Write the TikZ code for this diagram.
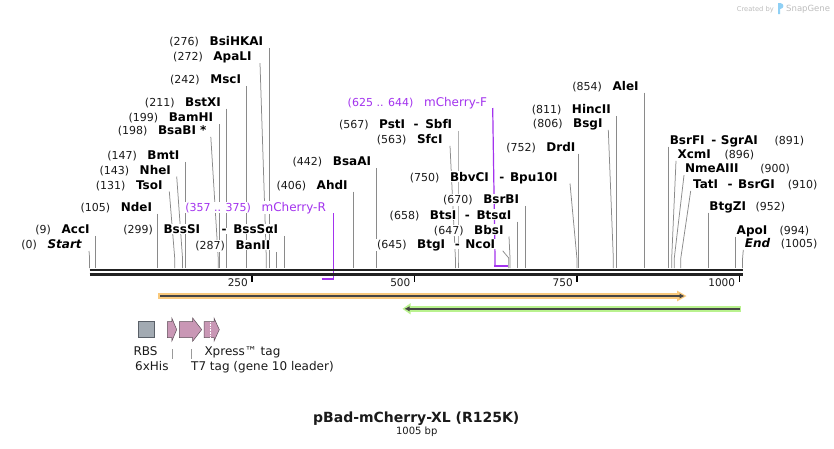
\documentclass[tikz,border=0pt]{standalone}
\usepackage{fontspec}
\setmainfont{DejaVu Sans}
\usetikzlibrary{arrows.meta}
\definecolor{sitegray}{HTML}{8A8A8A}
\definecolor{primer}{HTML}{A333EE}
\definecolor{orangeband}{HTML}{F9C97C}
\definecolor{greenband}{HTML}{B9F28E}
\definecolor{darkline}{HTML}{454545}
\definecolor{featpink}{HTML}{C997B5}
\definecolor{featedge}{HTML}{5E4E58}
\definecolor{rbsgray}{HTML}{A2AAB2}
\definecolor{rbsedge}{HTML}{5A6068}
\definecolor{sgray}{HTML}{BDBDBD}
\definecolor{sgblue}{HTML}{8FD0F5}
\definecolor{seqcol}{HTML}{222222}
\definecolor{textcol}{HTML}{1A1A1A}
\definecolor{leadgray}{HTML}{9A9A9A}
\pgfdeclarelayer{bg}
\pgfsetlayers{bg,main}
\newcommand{\wb}[1]{{\setlength{\fboxsep}{0.8pt}\colorbox{white}{#1}}}
\newcommand{\sname}[1]{\wb{\fontsize{12}{14}\selectfont\bfseries\color{black}#1}}
\newcommand{\snum}[1]{\wb{\fontsize{11}{13}\selectfont\color{textcol}(#1)}}
\tikzset{
  lbl/.style={inner sep=0pt, outer sep=0pt},
  siteline/.style={draw=sitegray, line width=0.75pt},
  primerline/.style={draw=primer, line width=1.2pt},
  primerbar/.style={draw=primer, line width=2pt},
  seqline/.style={draw=seqcol, line width=2.2pt},
  tickmark/.style={draw=black, line width=1.4pt},
  ticklbl/.style={inner sep=0pt, font=\fontsize{10.5}{12}\selectfont, anchor=base east, text=textcol},
  flbl/.style={inner sep=0pt, font=\fontsize{12}{14}\selectfont, text=textcol},
  leader/.style={draw=leadgray, line width=0.6pt},
  featbox/.style={fill=featpink, draw=featedge, line width=0.5pt},
}
% left-side site: id, text end x, baseline y, dx of line top, site x, number, name
\newcommand{\LS}[7]{%
  \node[lbl,anchor=base east] (L#1) at (#2,#3) {\snum{#6}\hspace{9pt}#7};
  \coordinate (S#1) at (#5,268);
  \begin{pgfonlayer}{bg}
    \draw[siteline] ([shift={(#4,2.5)}]L#1.base east) -- (#5,258) -- (S#1);
  \end{pgfonlayer}
}
% right-side site: id, text start x, baseline y, dx, site x, number, number end x, name
\newcommand{\RS}[8]{%
  \node[lbl,anchor=base west] (L#1) at (#2,#3) {#8};
  \node[lbl,anchor=base east] (N#1) at (#7,#3) {\snum{#6}};
  \coordinate (S#1) at (#5,268);
  \begin{pgfonlayer}{bg}
    \draw[siteline] ([shift={(#4,2.5)}]L#1.base west) -- (#5,258) -- (S#1);
  \end{pgfonlayer}
}
\begin{document}
\begin{tikzpicture}[x=1pt,y=-1pt]
\useasboundingbox (0,0) rectangle (834,448);
\begin{pgfonlayer}{bg}
\fill[white] (0,0) rectangle (834,448);
\end{pgfonlayer}

% ---- sequence backbone ----
\coordinate (seqA) at (89.6,270);
\coordinate (seqB) at (743.2,270);
\coordinate (seqC) at (89.6,274.4);
\coordinate (seqD) at (743.2,274.4);
\draw[seqline] (seqA) -- (seqB);
\draw[seqline] (seqC) -- (seqD);

% ---- ticks ----
\foreach \tx/\tl in {252.0/250, 414.5/500, 576.9/750, 739.3/1000}{
  \coordinate (T\tl a) at (\tx,275.6);
  \coordinate (T\tl b) at (\tx,282.3);
  \draw[tickmark] (T\tl a) -- (T\tl b);
  \node[ticklbl] (TL\tl) at (\tx-4,286) {\tl};
}

% ---- left-side sites ----
\LS{a}{82.5}{248.5}{6.5}{89.6}{0}{\sname{\itshape Start}}
\LS{b}{90.4}{233.3}{5}{95.4}{9}{\sname{AccI}}
\LS{c}{152.8}{211}{5}{157.8}{105}{\sname{NdeI}}
\LS{d}{163.3}{189}{6}{174.7}{131}{\sname{TsoI}}
\LS{e}{171.7}{174}{5}{182.5}{143}{\sname{NheI}}
\LS{f}{180.1}{159.3}{5}{185.1}{147}{\sname{BmtI}}
\LS{g}{207.3}{134.3}{3.5}{218.2}{198}{\sname{BsaBI *}}
\LS{h}{213.9}{121.7}{5}{218.9}{199}{\sname{BamHI}}
\LS{i}{221.7}{106}{5}{226.7}{211}{\sname{BstXI}}
\LS{j}{241.8}{83.3}{5}{246.8}{242}{\sname{MscI}}
\LS{k}{252.3}{60.7}{7.7}{266.3}{272}{\sname{ApaLI}}
\LS{l}{263.9}{45.7}{5}{268.9}{276}{\sname{BsiHKAI}}
\LS{m}{271.1}{249.3}{5}{276.1}{287}{\sname{BanII}}
\LS{n}{278.9}{233.3}{5}{283.9}{299}{\sname{BssSI}\hspace{20pt}\sname{-}\hspace{5pt}\sname{BssSαI}}
\LS{o}{348.4}{189}{5}{353.4}{406}{\sname{AhdI}}
\LS{p}{371.8}{165.7}{5}{376.8}{442}{\sname{BsaAI}}
\LS{q}{443.3}{143.3}{6.7}{455.4}{563}{\sname{SfcI}}
\LS{r}{453}{128.3}{5}{458}{567}{\sname{PstI}\hspace{7pt}\sname{-}\hspace{5pt}\sname{SbfI}}
\LS{s}{496}{248.3}{6.7}{508.7}{645}{\sname{BtgI}\hspace{8pt}\sname{-}\hspace{4pt}\sname{NcoI}}
\LS{t}{504.3}{234}{4.7}{510}{647}{\sname{BbsI}}
\LS{u}{512.1}{219}{5}{517.1}{658}{\sname{BtsI}\hspace{7pt}\sname{-}\hspace{5pt}\sname{BtsαI}}
\LS{v}{519.9}{203.3}{5}{524.9}{670}{\sname{BsrBI}}
\LS{w}{558.3}{181}{11.7}{576.9}{750}{\sname{BbvCI}\hspace{9pt}\sname{-}\hspace{4pt}\sname{Bpu10I}}
\LS{x}{576.2}{151}{2}{578.2}{752}{\sname{DrdI}}
\LS{y}{603.3}{127.3}{5}{613.3}{806}{\sname{BsgI}}
\LS{z}{611.5}{113.3}{5}{616.5}{811}{\sname{HincII}}
\LS{aa}{639.4}{90}{5}{644.4}{854}{\sname{AleI}}

% ---- right-side sites ----
\RS{ab}{669}{144}{-0.5}{668.5}{891}{805}{\sname{BsrFI}\hspace{5pt}\sname{-}\hspace{3pt}\sname{SgrAI}}
\RS{ac}{676.7}{158.3}{-0.7}{671.7}{896}{755}{\sname{XcmI}}
\RS{ad}{684.3}{172.7}{-0.3}{674.3}{900}{790.7}{\sname{NmeAIII}}
\RS{ae}{692.3}{188.3}{-1.6}{680.8}{910}{818.3}{\sname{TatI}\hspace{8pt}\sname{-}\hspace{4pt}\sname{BsrGI}}
\RS{af}{708.6}{210}{-0.5}{708.1}{952}{786}{\sname{BtgZI}}
\RS{ag}{735.9}{234}{-0.5}{735.4}{994}{810}{\sname{ApoI}}
\RS{ah}{744}{247.3}{-0.7}{742.6}{1005}{818.3}{\sname{\itshape End}}

% ---- primers ----
\node[lbl,anchor=base east] (PR) at (326.7,211)
  {\color{primer}\wb{\fontsize{11}{13}\selectfont(357 .. 375)}\hspace{9pt}\wb{\fontsize{12}{14}\selectfont mCherry-R}};
\coordinate (PRa) at (333.2,278.6);
\coordinate (PRb) at (321.5,278.6);
\begin{pgfonlayer}{bg}
\draw[primerline] ([shift={(6.5,2)}]PR.base east) -- (PRa);
\end{pgfonlayer}
\draw[primerbar] (PRb) -- ([shift={(0.6,0)}]PRa);

\node[lbl,anchor=base east] (PF) at (487.7,106)
  {\color{primer}\wb{\fontsize{11}{13}\selectfont(625 .. 644)}\hspace{9pt}\wb{\fontsize{12}{14}\selectfont mCherry-F}};
\coordinate (PFa) at (495,265.6);
\coordinate (PFb) at (507.5,265.6);
\begin{pgfonlayer}{bg}
\draw[primerline] ([shift={(5,2)}]PF.base east) -- (495,258) -- (PFa);
\end{pgfonlayer}
\draw[primerbar] ([shift={(-0.6,0)}]PFa) -- (PFb);

% ---- feature arrows (orange, green) ----
\coordinate (orS) at (158,296);
\coordinate (orE) at (684.5,296);
\fill[orangeband] (158,293.4) rectangle (678,298.6);
\fill[orangeband] (677,290.6) -- (686.5,296) -- (677,301.4) -- cycle;
\draw[darkline, line width=1.4pt, -{Latex[length=5pt,width=5.5pt]}] ([shift={(2,0)}]orS) -- (orE);

\coordinate (grS) at (739.5,308.8);
\coordinate (grE) at (404.5,308.8);
\fill[greenband] (410,306.1) rectangle (740.5,311.5);
\fill[greenband] (410.5,303.2) -- (402.5,308.8) -- (410.5,314.4) -- cycle;
\draw[darkline, line width=1.4pt, -{Latex[length=5pt,width=5.5pt]}] (grS) -- (grE);

% ---- small features ----
\filldraw[fill=rbsgray, draw=rbsedge, line width=0.6pt] (138.3,321.3) rectangle (154,337);
\filldraw[featbox] (167.3,321.6) -- (171.8,321.6) -- (171.8,318) -- (176.7,329.6) -- (171.8,341.2) -- (171.8,337.6) -- (167.3,337.6) -- cycle;
\filldraw[featbox] (179.3,321.6) -- (192.7,321.6) -- (192.7,318) -- (201.7,329.6) -- (192.7,341.2) -- (192.7,337.6) -- (179.3,337.6) -- cycle;
\filldraw[featbox] (204,321.6) -- (214,321.6) -- (214,318) -- (219.3,329.6) -- (214,341.2) -- (214,337.6) -- (204,337.6) -- cycle;
\draw[white, line width=0.6pt, dash pattern=on 0.8pt off 0.8pt] (210.3,322.2) -- (210.3,337);

\node[flbl, anchor=base west] (tRBS) at (133.3,355) {RBS};
\node[flbl, anchor=base west] (tHis) at (135,370) {6xHis};
\node[flbl, anchor=base west] (tT7) at (191,370) {T7 tag (gene 10 leader)};
\node[flbl, anchor=base west] (tXp) at (204.3,355) {Xpress™ tag};
\coordinate (hisA) at (172.7,349.3);
\coordinate (hisB) at (172.7,359.3);
\coordinate (t7A) at (191.7,349.3);
\coordinate (t7B) at (191.7,359.3);
\draw[leader] (hisA) -- (hisB);
\draw[leader] (t7A) -- (t7B);

% ---- title ----
\node[anchor=base, inner sep=0pt, font=\fontsize{14}{16}\selectfont\bfseries, text=textcol] (title) at (416.2,422) {pBad-mCherry-XL (R125K)};
\node[anchor=base, inner sep=0pt, font=\fontsize{10}{12}\selectfont, text=textcol] (bp) at (416.7,434) {1005 bp};

% ---- watermark ----
\node[anchor=base east, inner sep=0pt, font=\fontsize{6.7}{8}\selectfont, text=sgray] (cb) at (774,11) {Created by};
\fill[sgblue] (778,3) -- (780.2,3) .. controls (784.5,3.5) and (784.5,8.5) .. (780.2,9) -- (780.2,14) -- (778,14) -- cycle;
\node[anchor=base west, inner sep=0pt, font=\fontsize{8.5}{10}\selectfont, text=sgray] (sg) at (786,11) {SnapGene};
\end{tikzpicture}
\end{document}
